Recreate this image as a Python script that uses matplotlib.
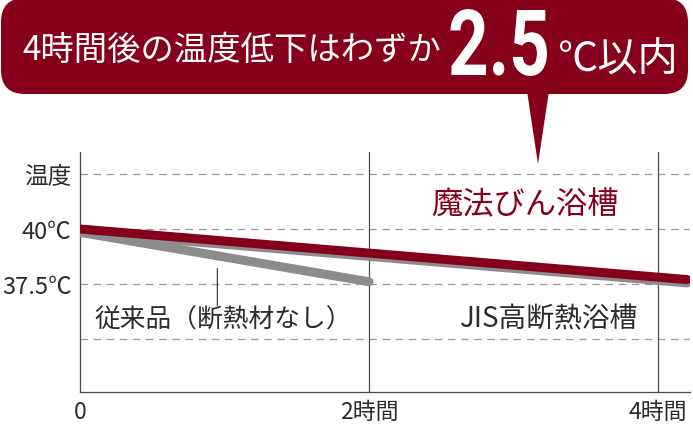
import matplotlib
matplotlib.use("Agg")
import matplotlib.pyplot as plt
from matplotlib.patches import FancyBboxPatch, Polygon
from matplotlib.transforms import IdentityTransform, Affine2D
from matplotlib.patheffects import AbstractPathEffect
from matplotlib import font_manager as fm

plt.rcParams['font.family'] = ['Noto Sans CJK JP', 'DejaVu Sans']

# ---------------- data ----------------
hours_magic = [0.0, 4.2]
temp_magic = [40.0, 37.7]          # 魔法びん浴槽
hours_jis = [0.0, 4.2]
temp_jis = [39.85, 37.55]          # JIS高断熱浴槽
hours_conv = [0.0, 2.0]
temp_conv = [39.85, 37.6]          # 従来品（断熱材なし）

ytick_vals = [42.5, 40.0, 37.5]
ytick_labels = ["温度", "40℃", "37.5℃"]
grid_vals = [42.5, 40.0, 37.5, 35.0]
xtick_vals = [0, 2, 4]
xtick_labels = ["0", "2時間", "4時間"]

title_text = "4時間後の温度低下はわずか"
big_value = "2.5"
title_suffix = "℃以内"
label_magic = "魔法びん浴槽"
label_jis = "JIS高断熱浴槽"
label_conv = "従来品（断熱材なし）"

RED = "#86001c"
GRAY = "#8c8c8c"
TXT = "#2b2b2b"
AXC = "#4a4a4a"

W, H = 693, 427
fig = plt.figure(figsize=(W / 100, H / 100), dpi=100)
fig.patch.set_facecolor("white")


class VStretch(AbstractPathEffect):
    """Draw text glyphs vertically stretched about a fixed display y (baseline)."""
    def __init__(self, sy, y0):
        super().__init__()
        self.sy = sy
        self.y0 = y0

    def draw_path(self, renderer, gc, tpath, affine, rgbFace=None):
        t = affine + Affine2D().translate(0, -self.y0).scale(1, self.sy).translate(0, self.y0)
        renderer.draw_path(gc, tpath, t, rgbFace)


# ---------------- axes ----------------
ax = fig.add_axes([80 / W, 1 - 393 / H, (690 - 80) / W, (393 - 153) / H])
ax.set_xlim(0, 4.22)
ax.set_ylim(32.59, 43.5)
for s in ["top", "right"]:
    ax.spines[s].set_visible(False)
for s in ["left", "bottom"]:
    ax.spines[s].set_color(AXC)
    ax.spines[s].set_linewidth(0.9)

for g in grid_vals:
    ax.axhline(g, color="#9a9a9a", lw=0.9, dashes=(6, 4.5), zorder=1)
for xv in xtick_vals[1:]:
    ax.axvline(xv, color=AXC, lw=0.9, zorder=1)

ax.set_yticks(ytick_vals, ytick_labels)
ax.set_xticks(xtick_vals, xtick_labels)
ax.tick_params(axis="y", length=0, pad=6, labelsize=17, labelcolor=TXT)
ax.tick_params(axis="x", length=0, pad=6, labelsize=16.5, labelcolor=TXT)

ax.plot(hours_jis, temp_jis, color=GRAY, lw=6.5, solid_capstyle="round", zorder=3)
ax.plot(hours_conv, temp_conv, color=GRAY, lw=6.5, solid_capstyle="round", zorder=4)
ax.plot(hours_magic, temp_magic, color=RED, lw=6.5, solid_capstyle="round", zorder=5)

ax.text(3.08, 41.15, label_magic, color=RED, fontsize=22.5, ha="center", va="center")
ax.text(3.24, 35.95, label_jis, color=TXT, fontsize=20, ha="center", va="center")
ax.text(0.99, 35.9, label_conv, color=TXT, fontsize=18.5, ha="center", va="center")
ax.annotate("", xy=(0.95, 38.2), xytext=(0.95, 36.5),
            arrowprops=dict(arrowstyle="-", color=TXT, lw=0.8, shrinkA=0, shrinkB=0))

# ---------------- banner ----------------
banner = FancyBboxPatch((1, H - 95), 687, 96,
                        boxstyle="round,pad=0,rounding_size=24",
                        facecolor=RED, edgecolor="none",
                        transform=IdentityTransform())
fig.add_artist(banner)
tail = Polygon([(527, H - 92), (549, H - 92), (538, H - 165)], closed=True,
               facecolor=RED, edgecolor="none", transform=IdentityTransform())
fig.add_artist(tail)

names = {f.name for f in fm.fontManager.ttflist}
if "Liberation Sans Narrow" in names:
    big_family, big_size, sy = ["Liberation Sans Narrow"], 65, 1.0
else:
    big_family, big_size, sy = ["Roboto", "DejaVu Sans"], 51, 1.29

fig.text(22 / W, 1 - 50 / H, title_text, color="white", fontsize=24,
         ha="left", va="center")
fig.text(448 / W, 1 - 76 / H, big_value, color="white", fontsize=big_size,
         fontweight="bold", family=big_family, ha="left", va="baseline",
         path_effects=[VStretch(sy, H - 76)])
fig.text(557 / W, 1 - 60 / H, title_suffix, color="white", fontsize=29,
         ha="left", va="center")

fig.savefig("out.png", dpi=100, facecolor="white")
